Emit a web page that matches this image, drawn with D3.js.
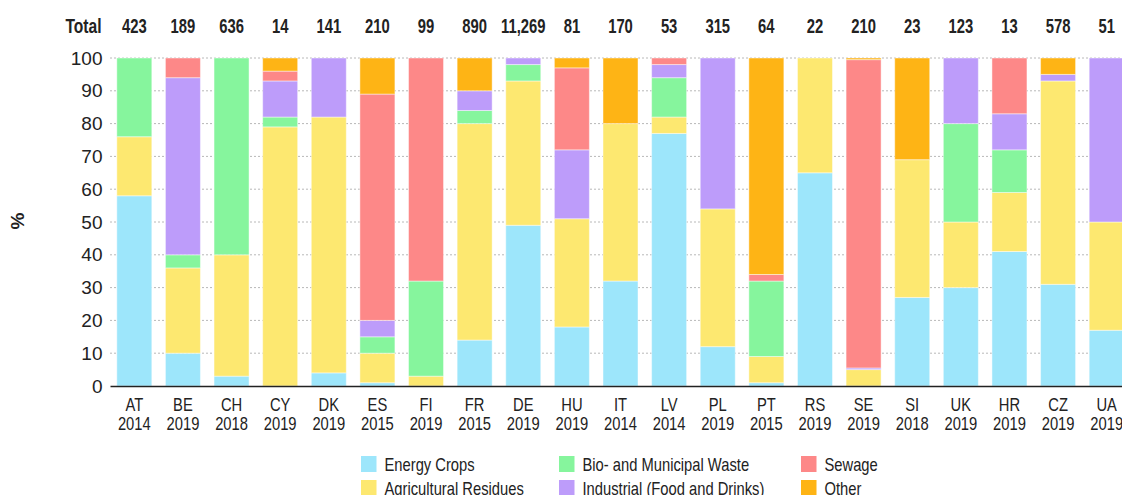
<!DOCTYPE html>
<html>
<head>
<meta charset="utf-8">
<script src="https://cdn.jsdelivr.net/npm/d3@7"></script>
<style>
    body { margin: 0; background: #fff; }
    svg { display: block; font-family: "Liberation Sans", Arial, sans-serif; }
</style>
</head>
<body>
<script>
// Countries and survey years
var countries = ["AT", "BE", "CH", "CY", "DK", "ES", "FI", "FR", "DE", "HU", "IT", "LV", "PL", "PT", "RS", "SE", "SI", "UK", "HR", "CZ", "UA"];
var years = ["2014", "2019", "2018", "2019", "2019", "2015", "2019", "2015", "2019", "2019", "2014", "2014", "2019", "2015", "2019", "2019", "2018", "2019", "2019", "2019", "2019"];
var totals = [423, 189, 636, 14, 141, 210, 99, 890, 11269, 81, 170, 53, 315, 64, 22, 210, 23, 123, 13, 578, 51];

// Share of each feedstock (%)
var energyCrops = [58, 10, 3, 0, 4, 1, 0, 14, 49, 18, 32, 77, 12, 1, 65, 0, 27, 30, 41, 31, 17];
var agriResidues = [18, 26, 37, 79, 78, 9, 3, 66, 44, 33, 48, 5, 42, 8, 35, 5, 42, 20, 18, 62, 33];
var bioWaste = [24, 4, 60, 3, 0, 5, 29, 4, 5, 0, 0, 12, 0, 23, 0, 0, 0, 30, 13, 0, 0];
var industrial = [0, 54, 0, 11, 18, 5, 0, 6, 2, 21, 0, 4, 46, 0, 0, 0.5, 0, 20, 11, 2, 50];
var sewage = [0, 6, 0, 3, 0, 69, 68, 0, 0, 25, 0, 2, 0, 2, 0, 94, 0, 0, 17, 0, 0];
var other = [0, 0, 0, 4, 0, 11, 0, 10, 0, 3, 20, 0, 0, 66, 0, 0.5, 31, 0, 0, 5, 0];

var seriesNames = ["Energy Crops", "Agricultural Residues", "Bio- and Municipal Waste", "Industrial (Food and Drinks)", "Sewage", "Other"];
var seriesValues = [energyCrops, agriResidues, bioWaste, industrial, sewage, other];
var colors = ["#9de6fb", "#fde870", "#86f59d", "#bd9cfa", "#fd8888", "#feb415"];
var yTicks = [0, 10, 20, 30, 40, 50, 60, 70, 80, 90, 100];

// the original font is a narrow one, squeeze the regular sans to match
function squeeze(x, y, s) {
    return "translate(" + x + "," + y + ") scale(" + (s || 0.82) + ",1)";
}

// build rows for d3.stack
var rows = countries.map(function (c, i) {
    var r = { country: c, year: years[i], total: totals[i] };
    seriesNames.forEach(function (s, j) { r[s] = seriesValues[j][i]; });
    return r;
});

var svg = d3.select("body").append("svg")
    .attr("width", 1122)
    .attr("height", 495);

var x = d3.scaleBand()
    .domain(countries)
    .range([110, 1131])
    .paddingInner(0.28)
    .paddingOuter(0.14);

var y = d3.scaleLinear()
    .domain([0, 100])
    .range([386, 58]);

function cx(d) { return x(d.country) + x.bandwidth() / 2; }

// dotted grid lines
svg.append("g")
    .selectAll("line")
    .data(yTicks.filter(function (t) { return t > 0; }))
    .join("line")
    .attr("x1", 110)
    .attr("x2", 1131)
    .attr("y1", function (d) { return y(d); })
    .attr("y2", function (d) { return y(d); })
    .attr("stroke", "#b8b8b8")
    .attr("stroke-dasharray", "2,2");

// stacked bars
var stack = d3.stack().keys(seriesNames);
var layers = stack(rows);

svg.append("g")
    .selectAll("g")
    .data(layers)
    .join("g")
    .attr("fill", function (d, i) { return colors[i]; })
    .selectAll("rect")
    .data(function (d) { return d; })
    .join("rect")
    .attr("x", function (d) { return x(d.data.country); })
    .attr("width", x.bandwidth())
    .attr("y", function (d) { return y(d[1]); })
    .attr("height", function (d) { return y(d[0]) - y(d[1]); })
    .attr("stroke", "#ffffff")
    .attr("stroke-opacity", 0.45)
    .attr("stroke-width", 1);

// y axis labels
var yAxis = svg.append("g")
    .attr("transform", "translate(110,0)")
    .call(d3.axisLeft(y).tickValues(yTicks).tickSize(0).tickPadding(7.5));
yAxis.select(".domain").remove();
yAxis.selectAll("text")
    .attr("font-size", 19)
    .attr("fill", "#222");

// x axis baseline and two-line labels
var xAxis = svg.append("g")
    .attr("transform", "translate(0,386)")
    .call(d3.axisBottom(x).tickSize(0).tickFormat(""));
xAxis.select(".domain")
    .attr("stroke", "#222")
    .attr("stroke-width", 1.5);

var xLabels = svg.append("g")
    .selectAll("text")
    .data(rows)
    .join("text")
    .attr("transform", function (d) { return squeeze(cx(d), 411); })
    .attr("text-anchor", "middle")
    .attr("font-size", 18)
    .attr("fill", "#222");
xLabels.append("tspan")
    .attr("x", 0)
    .text(function (d) { return d.country; });
xLabels.append("tspan")
    .attr("x", 0)
    .attr("dy", 19)
    .text(function (d) { return d.year; });

// totals row
svg.append("text")
    .attr("transform", squeeze(101.5, 33, 0.8))
    .attr("text-anchor", "end")
    .attr("font-size", 19.5)
    .attr("font-weight", "bold")
    .attr("fill", "#222")
    .text("Total");

svg.append("g")
    .selectAll("text")
    .data(rows)
    .join("text")
    .attr("transform", function (d) { return squeeze(cx(d), 33, 0.76); })
    .attr("text-anchor", "middle")
    .attr("font-size", 19.5)
    .attr("font-weight", "bold")
    .attr("fill", "#222")
    .text(function (d) { return d3.format(",")(d.total); });

// y axis title
svg.append("text")
    .attr("transform", "translate(24,221) rotate(-90)")
    .attr("text-anchor", "middle")
    .attr("font-size", 19)
    .attr("font-weight", "bold")
    .attr("fill", "#222")
    .text("%");

// legend, filled column by column
var legendCols = [361, 559, 801];
var legend = svg.append("g")
    .selectAll("g")
    .data(seriesNames)
    .join("g")
    .attr("transform", function (d, i) {
        return "translate(" + legendCols[Math.floor(i / 2)] + "," + (456 + (i % 2) * 24) + ")";
    });
legend.append("rect")
    .attr("width", 15.5)
    .attr("height", 16)
    .attr("fill", function (d, i) { return colors[i]; });
legend.append("text")
    .attr("transform", squeeze(23.5, 15))
    .attr("font-size", 18)
    .attr("fill", "#222")
    .text(function (d) { return d; });
</script>
</body>
</html>
